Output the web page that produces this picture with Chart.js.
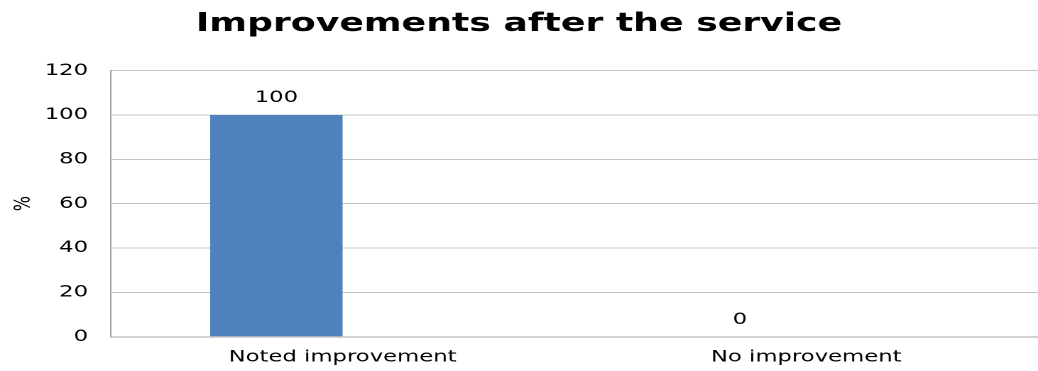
<!DOCTYPE html>
<html>
<head>
<meta charset="utf-8">
<script src="https://cdn.jsdelivr.net/npm/chart.js@4/dist/chart.umd.min.js"></script>
<style>
  html, body { margin: 0; padding: 0; background: #fff; overflow: hidden; }
  #wrap { width: 731px; height: 371px; transform: scale(1.42, 1); transform-origin: 0 0; }
</style>
</head>
<body>
<div id="wrap"><canvas id="c" width="731" height="371"></canvas></div>
<script>
const chartTitle = 'Improvements after the service';
const categories = ['Noted improvement', 'No improvement'];
const improvementValues = [100, 0];
const emptySeries = [null, null];
const yTicks = [0, 20, 40, 60, 80, 100, 120];
const yAxisTitle = '%';

const FONT = "'DejaVu Sans', sans-serif";

const valueLabels = {
  id: 'valueLabels',
  afterDatasetsDraw(chart) {
    const ctx = chart.ctx;
    const meta = chart.getDatasetMeta(0);
    ctx.save();
    ctx.font = "16px " + FONT;
    ctx.fillStyle = '#000';
    ctx.textAlign = 'center';
    ctx.textBaseline = 'middle';
    meta.data.forEach((el, i) => {
      const v = chart.data.datasets[0].data[i];
      if (v === null || v === undefined) return;
      ctx.fillText(String(v), el.x, el.y - 17);
    });
    ctx.restore();
  }
};

new Chart(document.getElementById('c'), {
  type: 'bar',
  data: {
    labels: categories,
    datasets: [
      { label: 'Improvement', data: improvementValues, backgroundColor: '#4F81BD', borderWidth: 0 },
      { label: '', data: emptySeries, backgroundColor: '#C0504D', borderWidth: 0 }
    ]
  },
  options: {
    responsive: false,
    animation: false,
    devicePixelRatio: 2,
    layout: { padding: { top: 0, right: 0, bottom: -7, left: 0 } },
    categoryPercentage: 2 / 3.5,
    barPercentage: 1.0,
    plugins: {
      legend: { display: false },
      tooltip: { enabled: false },
      title: {
        display: true,
        text: chartTitle,
        color: '#000',
        font: { family: FONT, size: 25.5, weight: 'bold' },
        padding: { top: 9, bottom: 31 }
      }
    },
    scales: {
      x: {
        grid: { display: false, drawTicks: false },
        border: { display: true, color: '#a6a6a6', width: 1 },
        ticks: { color: '#000', font: { family: FONT, size: 16 }, padding: 11 }
      },
      y: {
        min: 0,
        max: 120,
        afterBuildTicks(scale) { scale.ticks = yTicks.map(v => ({ value: v })); },
        afterFit(scale) { scale.width = 78; },
        grid: { color: '#c4c4c4', drawTicks: false },
        border: { display: true, color: '#a6a6a6', width: 1 },
        ticks: { color: '#000', font: { family: FONT, size: 16 }, padding: 16 },
        title: { display: true, text: yAxisTitle, color: '#000', font: { family: FONT, size: 16 }, padding: { top: 7, bottom: 0 } }
      }
    }
  },
  plugins: [valueLabels]
});
</script>
</body>
</html>
